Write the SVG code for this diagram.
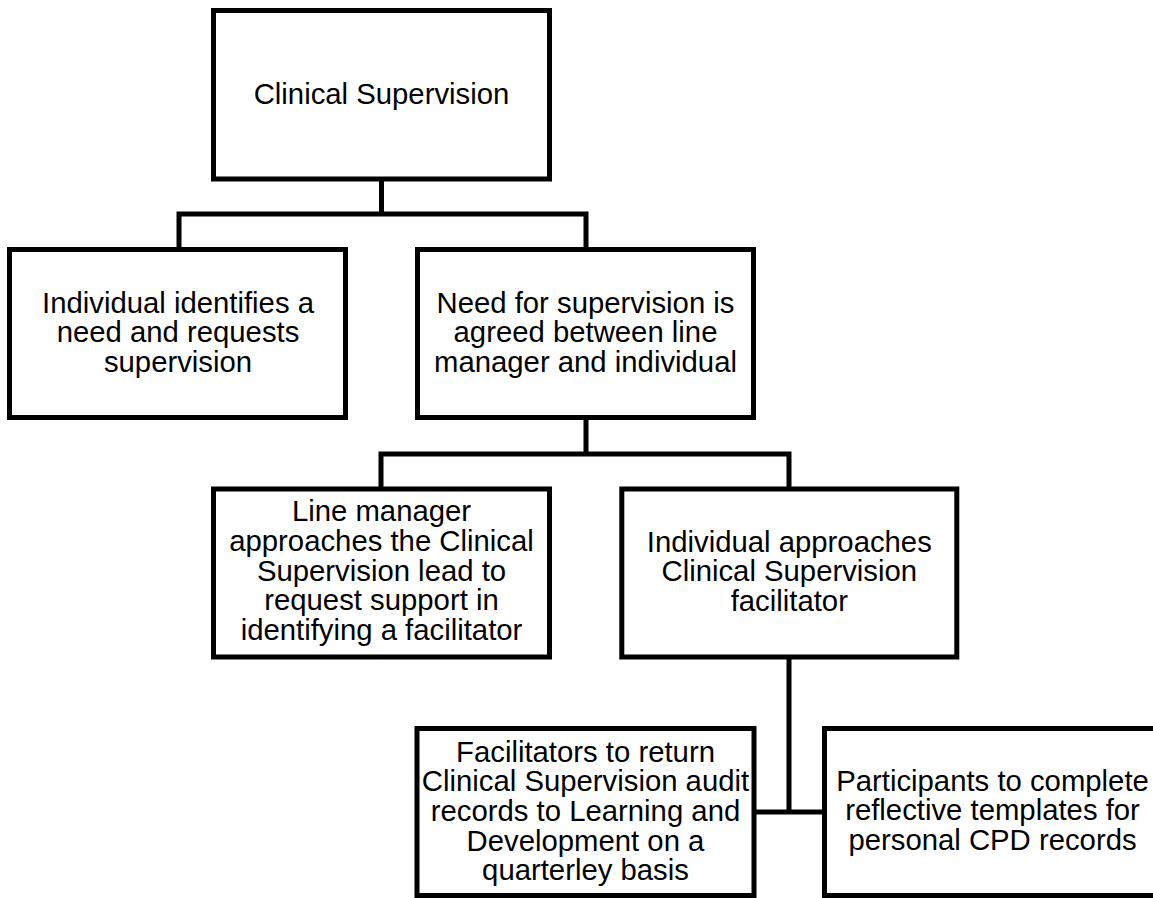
<svg xmlns="http://www.w3.org/2000/svg" width="1153" height="898" viewBox="0 0 1153 898">
<style>
.box{fill:#fff;stroke:#000;stroke-width:5;}
.lbl{font-family:"Liberation Sans",Arial,sans-serif;font-size:29.3px;fill:#000;text-anchor:middle;}
.conn{fill:none;stroke:#000;stroke-width:5;}
</style>
<rect width="1153" height="898" fill="#fff"/>
<g id="connectors">
<path class="conn" d="M381.5,179 V214 M179,249.5 V214 H586 V249.5"/>
<path class="conn" d="M586,417.5 V454 M381,489 V454 H789 V489"/>
<path class="conn" d="M789,657 V812 M754,812 H824.5"/>
</g>
<g id="n1">
<rect class="box" x="213.5" y="10.5" width="336" height="168.5"/>
<text class="lbl" x="381.5" y="104">Clinical Supervision</text>
</g>
<g id="n2">
<rect class="box" x="9.5" y="249.5" width="336" height="168"/>
<text class="lbl" x="178" y="312.7"><tspan x="178">Individual identifies a</tspan><tspan x="178" dy="29.5">need and requests</tspan><tspan x="178" dy="29.5">supervision</tspan></text>
</g>
<g id="n3">
<rect class="box" x="417.5" y="249.5" width="336" height="168"/>
<text class="lbl" x="585.5" y="312.7"><tspan x="585.5">Need for supervision is</tspan><tspan x="585.5" dy="29.5">agreed between line</tspan><tspan x="585.5" dy="29.5">manager and individual</tspan></text>
</g>
<g id="n4">
<rect class="box" x="213.5" y="489" width="336" height="168"/>
<text class="lbl" x="381.5" y="521"><tspan x="381.5">Line manager</tspan><tspan x="381.5" dy="29.8">approaches the Clinical</tspan><tspan x="381.5" dy="29.8">Supervision lead to</tspan><tspan x="381.5" dy="29.8">request support in</tspan><tspan x="381.5" dy="29.8">identifying a facilitator</tspan></text>
</g>
<g id="n5">
<rect class="box" x="621.8" y="489" width="335" height="168"/>
<text class="lbl" x="789.3" y="551.5"><tspan x="789.3">Individual approaches</tspan><tspan x="789.3" dy="29.8">Clinical Supervision</tspan><tspan x="789.3" dy="29.8">facilitator</tspan></text>
</g>
<g id="n6">
<rect class="box" x="417" y="728.5" width="337" height="167"/>
<text class="lbl" x="585.5" y="761.7"><tspan x="585.5">Facilitators to return</tspan><tspan x="585.5" dy="29.6">Clinical Supervision audit</tspan><tspan x="585.5" dy="29.6">records to Learning and</tspan><tspan x="585.5" dy="29.6">Development on a</tspan><tspan x="585.5" dy="29.6">quarterley basis</tspan></text>
</g>
<g id="n7">
<rect class="box" x="824.5" y="728.5" width="336" height="167"/>
<text class="lbl" x="992.5" y="790.5"><tspan x="992.5">Participants to complete</tspan><tspan x="992.5" dy="29.6">reflective templates for</tspan><tspan x="992.5" dy="29.6">personal CPD records</tspan></text>
</g>
</svg>
